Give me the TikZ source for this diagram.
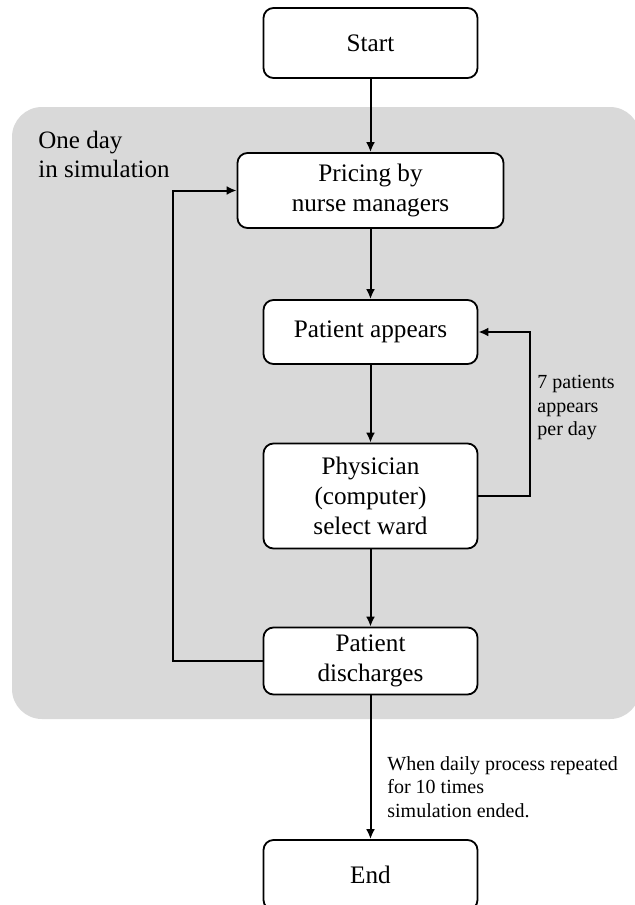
\documentclass[tikz,border=0pt]{standalone}
\usepackage{fontspec}
\setmainfont{Liberation Serif}
\usepackage{tikz}
\usetikzlibrary{arrows.meta}
\usetikzlibrary{shapes,positioning,calc}

\begin{document}
\begin{tikzpicture}[x=0.5pt,y=-0.5pt,
		stage/.style={draw, line width=0.9pt, rounded corners=5pt, fill=white, align=center, font=\fontsize{12.6}{15}\selectfont, minimum width=107pt},
		flow/.style={line width=1pt, -{Latex[length=5pt,width=4.5pt]}},
		note/.style={align=left, inner sep=0pt, font=\fontsize{10}{11.75}\selectfont}]
			\useasboundingbox (0,0) rectangle (635,905);
			\fill[gray!30, rounded corners=15pt] (12,107) rectangle (640,719);
			\node[anchor=north west, align=left, inner sep=0pt, font=\fontsize{12.5}{14.5}\selectfont] (day) at (38,131) {One day\\in simulation};
			\node[stage, minimum height=35pt] (start) at (370.5,43) {Start};
			\node[stage, minimum height=37.5pt, minimum width=133pt] (pricing) at (370.5,190.5) {Pricing by\\nurse managers};
			\node[stage, minimum height=32pt] (appear) at (370.5,332) {Patient appears};
			\node[stage, minimum height=52.5pt] (phys) at (370.5,496) {Physician\\(computer)\\select ward};
			\node[stage, minimum height=33.5pt] (disch) at (370.5,661) {Patient\\discharges};
			\node[stage, minimum height=35pt] (finish) at (370.5,875) {End};
			\draw[flow] (start) -- (pricing);
			\draw[flow] (pricing) -- (appear);
			\draw[flow] (appear) -- (phys);
			\draw[flow] (phys) -- (disch);
			\draw[flow] (disch) -- (finish);
			\draw[flow] (disch.west) -- ++(-90,0) |- (pricing.west);
			\draw[flow] (phys.east) -- ++(52,0) |- (appear.east);
			\node[note, anchor=west] (perday) at (537,408) {7 patients\\appears\\per day};
			\node[note, anchor=west] (repeat) at (387,787) {When daily process repeated\\for 10 times\\simulation ended.};
		\end{tikzpicture}
\end{document}
